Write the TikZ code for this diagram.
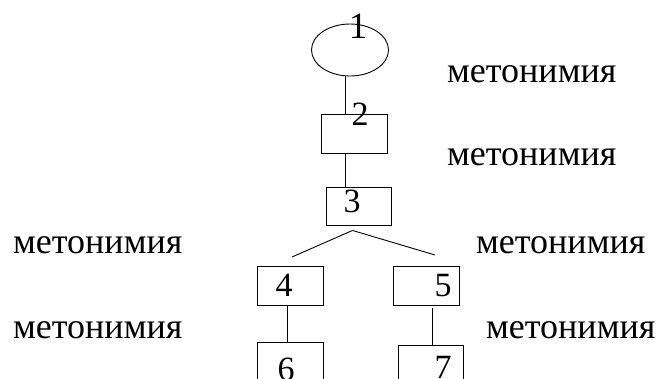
\documentclass[tikz,border=0pt]{standalone}
\usepackage{fontspec}
\setmainfont{Liberation Serif}
\usetikzlibrary{shapes.geometric}
\begin{document}
\begin{tikzpicture}[x=1pt,y=-1pt,
  box/.style={draw, line width=0.9pt, minimum width=66pt, minimum height=39pt, inner sep=0pt},
  oval/.style={draw, ellipse, line width=0.9pt, minimum width=77pt, minimum height=52pt, inner sep=0pt},
  num/.style={inner sep=0pt, font=\fontsize{34}{37}\selectfont},
  lbl/.style={inner sep=0pt, anchor=base west, font=\fontsize{36}{40}\selectfont},
  conn/.style={line width=0.9pt}]
\useasboundingbox (0,0) rectangle (662,378);
% shapes
\node[oval] (e1) at (350,50) {};
\node[box] (b2) at (354,133.5) {};
\node[box, minimum width=65pt, minimum height=38pt] (b3) at (358.5,206) {};
\node[box] (b4) at (290,285.5) {};
\node[box] (b5) at (426,285.5) {};
\node[box] (b6) at (290,361.5) {};
\node[box, minimum width=65pt] (b7) at (430.5,364.5) {};
% numbers
\node[num, font=\fontsize{37}{40}\selectfont] (t1) at (358,26) {1};
\node[num] (t2) at (360,114) {2};
\node[num] (t3) at (352,201) {3};
\node[num] (t4) at (284,285) {4};
\node[num] (t5) at (443,286) {5};
\node[num] (t6) at (286,369) {6};
\node[num] (t7) at (443,367) {7};
% connectors
\draw[conn] ([xshift=-5pt]e1.south) -- ([xshift=-9pt]b2.north);
\draw[conn] ([xshift=-9pt]b2.south) -- ([xshift=-13.5pt]b3.north);
\coordinate (s3) at ([xshift=-6pt,yshift=-5pt]b3.south);
\coordinate (s4) at (292,257);
\coordinate (s5) at (435,255);
\draw[conn] (s3) -- (s4);
\draw[conn] (s3) -- (s5);
\draw[conn] ([xshift=-3pt]b4.south) -- ([xshift=-3pt]b6.north);
\draw[conn] ([xshift=6pt,yshift=-3pt]b5.south) -- ([xshift=1.5pt]b7.north);
% labels
\node[lbl] (l1) at (447,82) {метонимия};
\node[lbl] (l2) at (447,165) {метонимия};
\node[lbl] (l3) at (13,253) {метонимия};
\node[lbl] (l4) at (476,253) {метонимия};
\node[lbl] (l5) at (13,338) {метонимия};
\node[lbl] (l6) at (486,338) {метонимия};
\end{tikzpicture}
\end{document}
